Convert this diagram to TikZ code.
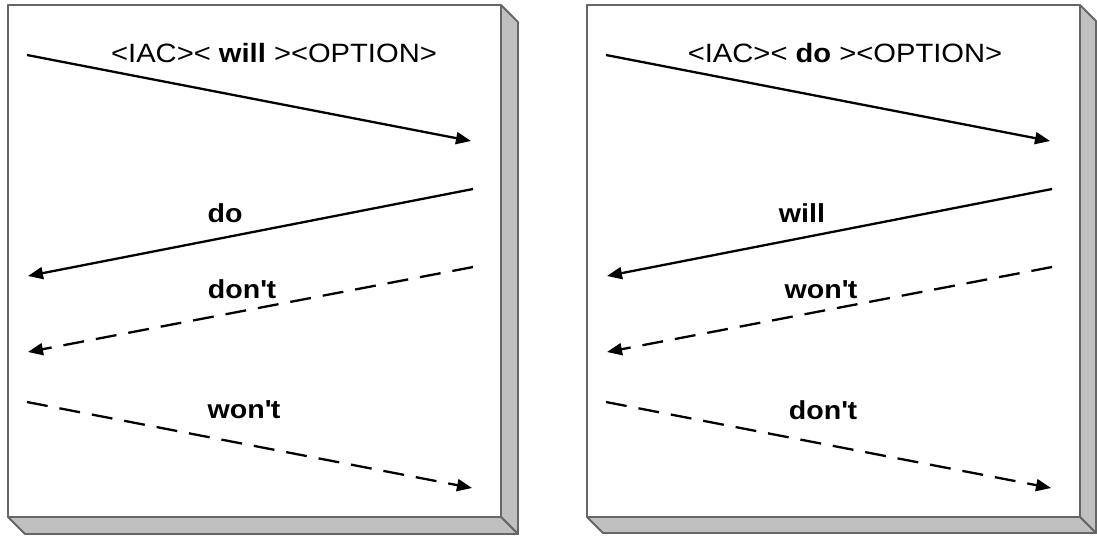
\documentclass[tikz,border=0pt]{standalone}
\usepackage{fontspec}
\setmainfont[FakeStretch=1.1]{Liberation Sans}
\usetikzlibrary{arrows.meta}
\definecolor{edgegray}{HTML}{666666}
\definecolor{sidegray}{HTML}{C0C0C0}
\newcommand{\apos}{\textquotesingle}
\tikzset{
  front/.style={draw=edgegray,line width=1.8pt,fill=white},
  bevel/.style={draw=edgegray,line width=1.8pt,fill=sidegray},
  msg/.style={line width=2.3pt,-{Triangle[length=15pt,width=12pt]}},
  optmsg/.style={msg,dash pattern=on 21pt off 12pt},
  cmd/.style={inner sep=0pt,font=\fontsize{26.5}{28}\selectfont},
  reply/.style={inner sep=0pt,font=\fontsize{26}{28}\selectfont\bfseries},
}
\begin{document}
\begin{tikzpicture}[x=1pt,y=-1pt,line join=round]
\useasboundingbox (0,0) rectangle (1097,539);
% left box: sender offers will
\draw[bevel] (501,5) -- (518,22) -- (518,534) -- (501,517) -- cycle;
\draw[bevel] (8,517) -- (501,517) -- (518,534) -- (25,534) -- cycle;
\draw[front] (8,5) rectangle (501,517);
\coordinate (a1s) at (27,55);
\coordinate (a1e) at (471,141);
\coordinate (a2s) at (473,189);
\coordinate (a2e) at (28,276);
\coordinate (a3s) at (473,267);
\coordinate (a3e) at (28,352);
\coordinate (a4s) at (27,402);
\coordinate (a4e) at (472,488);
\draw[msg] (a1s) -- (a1e);
\draw[msg] (a2s) -- (a2e);
\draw[optmsg] (a3s) -- (a3e);
\draw[optmsg] (a4s) -- (a4e);
\node[cmd] (awill) at (274,53) {<IAC>< \textbf{will} ><OPTION>};
\node[reply] (ado) at (225,213) {do};
\node[reply] (adont) at (242,289) {don\apos t};
\node[reply] (awont) at (244,410) {won\apos t};
% right box: sender asks do
\begin{scope}[xshift=579pt]
\draw[bevel] (501,5) -- (517,21) -- (517,533) -- (501,517) -- cycle;
\draw[bevel] (8,517) -- (501,517) -- (517,533) -- (24,533) -- cycle;
\draw[front] (8,5) rectangle (501,517);
\coordinate (b1s) at (27,55);
\coordinate (b1e) at (471,141);
\coordinate (b2s) at (473,189);
\coordinate (b2e) at (28,276);
\coordinate (b3s) at (473,267);
\coordinate (b3e) at (28,352);
\coordinate (b4s) at (27,402);
\coordinate (b4e) at (472,488);
\draw[msg] (b1s) -- (b1e);
\draw[msg] (b2s) -- (b2e);
\draw[optmsg] (b3s) -- (b3e);
\draw[optmsg] (b4s) -- (b4e);
\node[cmd] (bdo) at (266,53) {<IAC>< \textbf{do} ><OPTION>};
\node[reply] (bwill) at (223,213) {will};
\node[reply] (bwont) at (242,290) {won\apos t};
\node[reply] (bdont) at (244,410) {don\apos t};
\end{scope}
\end{tikzpicture}
\end{document}
